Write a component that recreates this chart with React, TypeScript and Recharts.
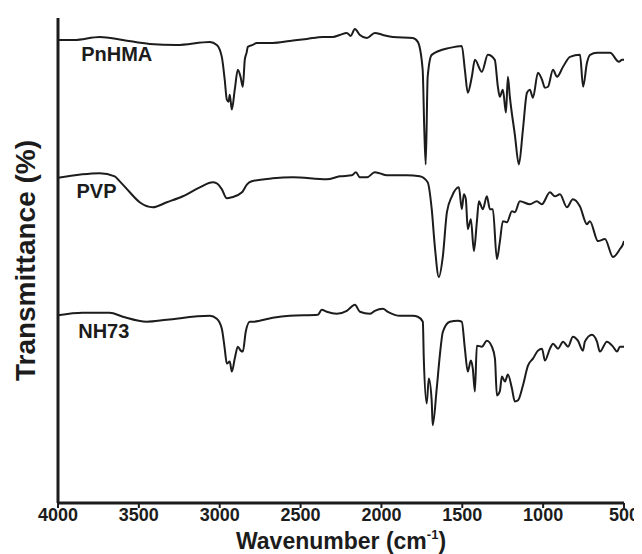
import { LineChart, Line, XAxis, YAxis, ReferenceDot, Label } from "recharts";

// wavenumber (cm-1) and offset transmittance for each spectrum
const pnhmaWn = [4000, 3900, 3742, 3600, 3433, 3266, 3061, 3018, 2987, 2969, 2956, 2945, 2938, 2925, 2907, 2888, 2870, 2857, 2845, 2834, 2826, 2795, 2771, 2672, 2567, 2461, 2362, 2300, 2257, 2214, 2190, 2164, 2133, 2090, 2041, 1991, 1929, 1806, 1775, 1745, 1735, 1726, 1714, 1689, 1577, 1503, 1484, 1466, 1441, 1422, 1379, 1342, 1299, 1280, 1268, 1249, 1230, 1218, 1206, 1175, 1150, 1125, 1100, 1082, 1063, 1032, 1007, 989, 970, 939, 914, 877, 834, 772, 753, 729, 710, 667, 586, 531, 512, 500];
const pnhmaT = [93.0, 93.0, 93.6, 93.0, 92.2, 92.0, 92.6, 92.0, 89.6, 85.0, 81.0, 80.6, 82.0, 79.0, 83.0, 87.0, 85.4, 83.6, 89.0, 90.4, 91.6, 92.0, 92.4, 92.4, 92.8, 93.2, 93.6, 93.6, 94.0, 94.4, 93.8, 95.2, 94.0, 93.4, 94.4, 94.0, 93.6, 93.4, 92.6, 87.0, 75.0, 68.0, 85.6, 90.0, 91.4, 91.8, 87.0, 82.4, 85.6, 89.0, 86.6, 90.0, 89.0, 83.6, 81.6, 83.0, 78.4, 85.6, 81.6, 74.0, 68.0, 75.0, 82.4, 83.0, 81.4, 86.4, 85.0, 83.4, 83.6, 87.0, 85.6, 87.6, 89.6, 90.0, 83.6, 88.4, 90.0, 90.4, 90.4, 88.6, 89.0, 89.0];

const pvpWn = [4000, 3742, 3649, 3618, 3556, 3495, 3414, 3327, 3228, 3123, 3043, 3018, 2987, 2956, 2925, 2862, 2831, 2802, 2672, 2548, 2338, 2257, 2183, 2158, 2133, 2090, 2041, 2010, 1967, 1843, 1763, 1714, 1689, 1670, 1645, 1620, 1595, 1564, 1521, 1503, 1490, 1478, 1466, 1447, 1428, 1410, 1397, 1373, 1348, 1329, 1311, 1286, 1268, 1249, 1224, 1193, 1175, 1144, 1082, 1039, 1008, 958, 927, 896, 853, 816, 773, 729, 711, 661, 618, 568, 525, 506, 500];
const pvpT = [65.3, 66.2, 65.6, 64.6, 62.4, 60.4, 59.4, 60.4, 61.6, 63.4, 64.4, 64.2, 63.0, 61.2, 61.4, 62.4, 64.0, 64.6, 65.2, 65.4, 65.0, 65.6, 65.8, 66.4, 65.4, 65.4, 66.4, 66.2, 65.8, 65.8, 65.6, 64.4, 59.0, 51.6, 45.4, 49.6, 58.4, 61.6, 63.4, 59.0, 62.0, 61.0, 55.0, 57.0, 50.6, 56.4, 60.6, 59.0, 61.6, 59.0, 59.0, 49.0, 52.4, 56.6, 56.4, 58.6, 58.4, 60.6, 60.0, 60.6, 60.0, 62.4, 61.6, 62.0, 59.4, 61.0, 59.6, 56.0, 56.6, 52.6, 53.0, 49.4, 51.0, 52.0, 52.6];

const nh73Wn = [4000, 3847, 3680, 3599, 3451, 3327, 3061, 3018, 2987, 2969, 2956, 2938, 2925, 2907, 2888, 2870, 2857, 2839, 2814, 2795, 2672, 2567, 2393, 2369, 2338, 2276, 2214, 2164, 2133, 2072, 2041, 1991, 1960, 1886, 1806, 1775, 1744, 1738, 1720, 1707, 1689, 1683, 1658, 1639, 1620, 1577, 1528, 1503, 1484, 1466, 1447, 1435, 1422, 1410, 1379, 1348, 1317, 1298, 1286, 1268, 1255, 1236, 1218, 1193, 1175, 1156, 1125, 1094, 1063, 1032, 1007, 989, 958, 939, 908, 877, 846, 816, 785, 754, 742, 698, 667, 649, 606, 568, 543, 525, 506, 500];
const nh73T = [37.7, 38.2, 38.2, 37.4, 36.4, 36.8, 37.6, 37.0, 35.0, 31.0, 28.0, 28.4, 26.4, 29.0, 31.4, 30.6, 30.4, 34.4, 36.4, 36.4, 37.2, 37.6, 37.8, 38.8, 38.4, 38.0, 38.6, 39.8, 38.4, 38.0, 38.6, 39.0, 38.4, 37.6, 37.6, 37.4, 36.4, 29.0, 20.0, 25.0, 20.4, 15.6, 23.0, 29.6, 34.4, 36.4, 36.6, 36.4, 31.0, 26.4, 28.6, 27.0, 22.4, 31.6, 31.4, 32.6, 31.4, 29.0, 21.6, 22.4, 25.4, 24.4, 25.8, 23.0, 20.4, 20.6, 23.6, 27.6, 29.0, 30.6, 31.0, 28.6, 31.0, 32.0, 31.0, 32.4, 31.4, 33.4, 32.6, 30.6, 32.4, 33.8, 32.4, 30.4, 32.4, 31.4, 30.4, 31.4, 31.4, 31.4];

const xTicks = [4000, 3500, 3000, 2500, 2000, 1500, 1000, 500];

const seriesNames = ["PnHMA", "PVP", "NH73"];
const labelWn = [3637, 3762, 3717];
const labelT = [90.2, 62.6, 34.6];

const toPoints = (wn: number[], t: number[]) => wn.map((w, i) => ({ wn: w, t: t[i] }));

const series = [
  toPoints(pnhmaWn, pnhmaT),
  toPoints(pvpWn, pvpT),
  toPoints(nh73Wn, nh73T),
];

const font = "'Liberation Sans', Arial, sans-serif";
const ink = "#1c1c1c";

const XTitle = (props: any) => {
  const { viewBox } = props;
  const cx = viewBox.x + viewBox.width / 2;
  return (
    <text x={cx} y={541} textAnchor="middle" fontFamily={font} fontWeight="bold" fontSize={23} fill={ink}>
      Wavenumber (cm
      <tspan dy={-10} fontSize={13}>-1</tspan>
      <tspan dy={10}>)</tspan>
    </text>
  );
};

const YTitle = (props: any) => {
  const { viewBox } = props;
  const cy = viewBox.y + viewBox.height / 2;
  return (
    <text x={20} y={cy} transform={`rotate(-90, 20, ${cy})`} textAnchor="middle" dominantBaseline="middle" fontFamily={font} fontWeight="bold" fontSize={28} fill={ink}>
      Transmittance (%)
    </text>
  );
};

export default function App() {
  return (
    <LineChart width={634} height={546} margin={{ top: 10, right: 18, left: 0, bottom: 0 }}>
      <XAxis
        type="number"
        dataKey="wn"
        domain={[500, 4000]}
        reversed
        ticks={xTicks}
        allowDataOverflow
        height={51}
        axisLine={{ stroke: ink, strokeWidth: 3 }}
        tickLine={{ stroke: ink, strokeWidth: 2 }}
        tickSize={5}
        tickMargin={0}
        tick={{ fontSize: 18, fontWeight: "bold", fill: ink, fontFamily: font }}
      >
        <Label content={XTitle} />
      </XAxis>
      <YAxis
        type="number"
        domain={[0, 97.4]}
        width={50}
        tick={false}
        tickLine={false}
        axisLine={{ stroke: ink, strokeWidth: 3 }}
      >
        <Label content={YTitle} />
      </YAxis>
      {series.map((d, i) => (
        <Line
          key={seriesNames[i]}
          data={d}
          dataKey="t"
          type="monotone"
          stroke={ink}
          strokeWidth={2}
          dot={false}
          isAnimationActive={false}
        />
      ))}
      {seriesNames.map((name, i) => (
        <ReferenceDot
          key={name}
          x={labelWn[i]}
          y={labelT[i]}
          r={0}
          stroke="none"
          fill="none"
          label={{ value: name, position: "center", fontSize: 20, fontWeight: "bold", fill: ink, fontFamily: font }}
        />
      ))}
    </LineChart>
  );
}
